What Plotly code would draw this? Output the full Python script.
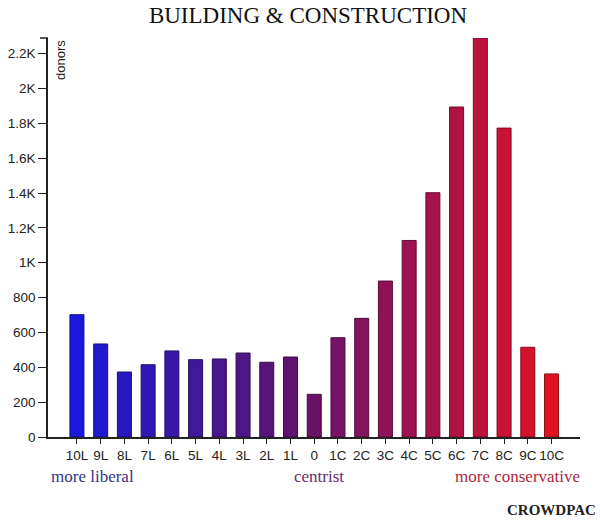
import plotly.graph_objects as go

categories = ["10L", "9L", "8L", "7L", "6L", "5L", "4L", "3L", "2L", "1L", "0",
              "1C", "2C", "3C", "4C", "5C", "6C", "7C", "8C", "9C", "10C"]
donors = [702, 534, 373, 415, 494, 444, 448, 482, 429, 459, 245,
          570, 681, 895, 1128, 1402, 1894, 2290, 1773, 515, 362]
bar_colors = ["#1a18dc", "#2218cf", "#2918c2", "#3018b5", "#3818a8", "#40189c", "#471690",
              "#4f1686", "#57157c", "#601472", "#6a1268", "#781266", "#84125e", "#901256",
              "#9c1250", "#a6124a", "#b01244", "#bc123e", "#c81236", "#d4122c", "#e01222"]
line_colors = ["#10108a", "#15107f", "#1a1078", "#1f1070", "#241068", "#281062", "#2c0e5a",
               "#300e54", "#360d4e", "#3c0c48", "#420b42", "#4a0b40", "#520b3a", "#5a0b36",
               "#620b32", "#6a0b2e", "#720b2a", "#7a0b26", "#820b22", "#8a0b1c", "#920b16"]
ytick_vals = [0, 200, 400, 600, 800, 1000, 1200, 1400, 1600, 1800, 2000, 2200]
ytick_text = ["0", "200", "400", "600", "800", "1K", "1.2K", "1.4K", "1.6K", "1.8K", "2K", "2.2K"]

fig = go.Figure(go.Bar(
    x=categories, y=donors,
    marker=dict(color=bar_colors, line=dict(color=line_colors, width=1)),
    hoverinfo="x+y",
))

fig.update_layout(
    width=600, height=522,
    margin=dict(l=48, r=20, t=38, b=85),
    paper_bgcolor="white", plot_bgcolor="white",
    bargap=0.41,
    showlegend=False,
    title=dict(text="BUILDING &amp; CONSTRUCTION", x=(308 - 0) / 600, xref="container", xanchor="center",
               y=1 - 15 / 522, yanchor="middle",
               font=dict(family="Liberation Serif", size=23, color="#111")),
    font=dict(family="Liberation Sans, Arial", size=12, color="#222"),
)
fig.update_xaxes(
    type="category", range=[-1.22, 21.2], automargin=False,
    showline=True, linecolor="#222", linewidth=1.5,
    ticks="outside", ticklen=5, tickcolor="#222", tickwidth=1,
    showgrid=False, zeroline=False, tickangle=0,
    tickfont=dict(family="Liberation Sans, Arial", size=13.5, color="#222"),
)
fig.update_yaxes(
    range=[0, 2290], automargin=False,
    tickvals=ytick_vals, ticktext=ytick_text,
    showline=True, linecolor="#222", linewidth=1.5,
    ticks="outside", ticklen=8, tickcolor="#222", tickwidth=1,
    showgrid=False, zeroline=False,
    tickfont=dict(family="Liberation Sans, Arial", size=13.5, color="#222"),
)
# d3-style outer tick at top of y axis
fig.add_shape(type="line", xref="paper", yref="paper", x0=-8 / 532, x1=0, y0=1, y1=1,
              line=dict(color="#222", width=1.5))

fig.add_annotation(text="donors", xref="paper", yref="paper", x=12 / 532, y=1,
                   xanchor="center", yanchor="top", textangle=-90, showarrow=False,
                   font=dict(family="Liberation Sans, Arial", size=13, color="#222"))

# bottom labels
fig.add_annotation(text="more liberal", xref="paper", yref="paper",
                   x=(49 - 48) / 532, xanchor="left", y=-(476 - 437) / 399, yanchor="middle",
                   showarrow=False,
                   font=dict(family="Liberation Serif", size=17, color="#34348a"))
fig.add_annotation(text="centrist", xref="paper", yref="paper",
                   x=(319 - 48) / 532, xanchor="center", y=-(476 - 437) / 399, yanchor="middle",
                   showarrow=False,
                   font=dict(family="Liberation Serif", size=17, color="#6a2a70"))
fig.add_annotation(text="more conservative", xref="paper", yref="paper",
                   x=(582 - 48) / 532, xanchor="right", y=-(476 - 437) / 399, yanchor="middle",
                   showarrow=False,
                   font=dict(family="Liberation Serif", size=17, color="#b0283a"))
fig.add_annotation(text="<b>CROWDPAC</b>", xref="paper", yref="paper",
                   x=(598 - 48) / 532, xanchor="right", y=-(510 - 437) / 399, yanchor="middle",
                   showarrow=False,
                   font=dict(family="Liberation Serif", size=15, color="#222"))

fig.write_html("out.html")
